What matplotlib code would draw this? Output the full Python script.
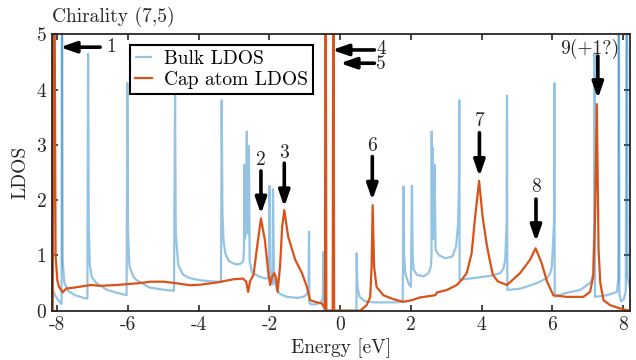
import numpy as np
import matplotlib
matplotlib.use("Agg")
import matplotlib.pyplot as plt

plt.rcParams["font.family"] = ["cmr10", "DejaVu Serif"]
plt.rcParams["axes.formatter.use_mathtext"] = True

# bulk LDOS (energy in eV, LDOS)
bulk_E = [-8.15, -8.05, -7.95, -7.88, -7.87, -7.85, -7.80, -7.70, -7.50, -7.30, -7.15,
          -7.13, -7.11, -7.08, -7.03, -6.90, -6.60, -6.35, -6.04,
          -6.02, -6.00, -5.96, -5.85, -5.77, -5.40, -5.00, -4.70,
          -4.67, -4.65, -4.58, -4.50, -4.44, -4.25, -3.96, -3.60, -3.37,
          -3.35, -3.33, -3.30, -3.25, -3.15, -2.97, -2.83, -2.74, -2.72,
          -2.71, -2.70, -2.66, -2.64, -2.62, -2.59, -2.58, -2.56, -2.50, -2.30, -2.10, -2.02,
          -2.00, -1.98, -1.95, -1.91, -1.90, -1.87, -1.80, -1.70, -1.50, -1.20, -1.00, -0.92, -0.895,
          -0.88, -0.87, -0.80, -0.65, -0.55, -0.49,
          -0.47, -0.46, 0.46,
          0.47, 0.48, 0.50, 0.55, 0.70, 1.00, 1.50, 1.77,
          1.79, 1.81, 1.84, 1.93, 2.00,
          2.03, 2.05, 2.08, 2.17, 2.36, 2.50, 2.57, 2.585,
          2.59, 2.60, 2.62, 2.64, 2.67, 2.70, 2.80, 2.98, 3.17, 3.28, 3.34, 3.36,
          3.37, 3.38, 3.77, 4.24, 4.53, 4.62, 4.67, 4.71,
          4.72, 4.73, 5.10, 5.57, 5.85, 5.94, 5.99, 6.05,
          6.06, 6.07, 6.32, 6.79, 7.07, 7.12, 7.16, 7.19,
          7.20, 7.21, 7.55, 7.83, 7.87,
          7.88, 7.90, 7.95, 8.02, 8.08,
          8.11, 8.13, 8.20]
bulk_L = [0.40, 0.26, 0.17, 0.12, 8.00, 0.90, 0.50, 0.36, 0.28, 0.24, 0.22,
          4.65, 1.50, 0.83, 0.62, 0.50, 0.38, 0.33, 0.28,
          4.12, 1.40, 0.80, 0.62, 0.56, 0.42, 0.38, 0.36,
          3.89, 1.40, 0.83, 0.72, 0.65, 0.59, 0.55, 0.53, 0.52,
          3.81, 1.80, 1.28, 1.04, 0.90, 0.84, 0.845, 0.89, 1.10,
          2.64, 1.30, 1.40, 3.24, 1.50, 1.40, 2.98, 0.90, 0.70, 0.62, 0.58, 0.60,
          2.26, 0.80, 0.55, 0.48, 2.20, 0.60, 0.40, 0.30, 0.25, 0.23, 0.26, 0.32, 0.40,
          1.43, 0.14, 0.11, 0.12, 0.15, 0.22,
          1.06, 0.00, 0.00,
          1.04, 0.55, 0.40, 0.25, 0.17, 0.15, 0.15, 0.16,
          2.25, 1.00, 0.68, 0.50, 0.43,
          2.26, 1.00, 0.74, 0.65, 0.62, 0.68, 0.80, 1.00,
          3.24, 1.30, 2.95, 1.30, 2.64, 1.10, 1.00, 0.95, 0.98, 1.16, 1.60, 2.20,
          3.81, 0.56, 0.59, 0.63, 0.68, 0.76, 0.92, 1.60,
          3.89, 0.375, 0.40, 0.50, 0.59, 0.68, 0.80, 1.60,
          4.12, 0.25, 0.31, 0.375, 0.50, 0.58, 0.68, 1.60,
          4.66, 0.25, 0.28, 0.34, 0.60,
          8.00, 0.30, 0.17, 0.20, 0.35,
          8.00, 0.60, 0.40]

# cap atom LDOS
cap_E = [-8.15, -8.13, -8.09, -8.05, -8.00, -7.95, -7.85, -7.75, -7.50, -7.20, -7.05,
         -6.80, -6.32, -6.04, -5.66, -5.37, -5.00, -4.67, -4.24, -3.96, -3.49, -3.00,
         -2.75, -2.66, -2.60, -2.55, -2.45, -2.36, -2.24, -2.13, -2.03, -1.98, -1.92,
         -1.86, -1.81, -1.77, -1.70, -1.64, -1.58, -1.47, -1.27, -1.08, -0.94, -0.85,
         -0.71, -0.52, -0.43, -0.41, -0.39, -0.21, -0.19, -0.17, 0.57, 0.75, 0.85,
         0.89, 0.92, 0.96, 1.03, 1.22, 1.50, 1.79, 2.03, 2.26, 2.69, 2.74, 3.02, 3.30,
         3.44, 3.58, 3.72, 3.81, 3.93, 4.03, 4.14, 4.23, 4.32, 4.46, 4.72, 5.09, 5.37,
         5.53, 5.70, 5.85, 6.03, 6.41, 6.88, 7.07, 7.16, 7.21, 7.26, 7.31, 7.36, 7.45,
         7.64, 7.92, 8.11, 8.20]
cap_L = [0.00, 0.00, 8.00, 1.00, 0.55, 0.43, 0.33, 0.40, 0.42, 0.45, 0.465,
         0.45, 0.465, 0.48, 0.50, 0.525, 0.525, 0.50, 0.46, 0.47, 0.51, 0.57,
         0.58, 0.53, 0.34, 0.53, 0.65, 1.10, 1.67, 1.28, 0.68, 0.465, 0.62,
         0.68, 0.59, 0.34, 0.80, 1.52, 1.82, 1.34, 0.92, 0.68, 0.43, 0.19,
         0.16, 0.13, 0.04, 8.00, 0.00, 0.00, 8.00, 0.00, 0.00, 0.10, 0.25,
         0.80, 1.91, 0.80, 0.43, 0.28, 0.21, 0.16, 0.19, 0.24, 0.28, 0.33, 0.375, 0.465,
         0.56, 0.68, 1.04, 1.64, 2.35, 1.70, 1.22, 0.92, 0.65, 0.53, 0.465, 0.68, 0.92,
         1.13, 0.86, 0.53, 0.28, 0.25, 0.25, 0.34, 0.62, 1.70, 3.74, 1.10, 0.50, 0.19,
         0.10, 0.04, 0.01, 0.00]

# peak arrows: tip (E, L) and tail (E, L)
arrow_tip = [(-7.92, 4.77), (-0.23, 4.72), (0.00, 4.48), (-2.24, 1.75), (-1.58, 1.88),
             (0.91, 2.00), (3.94, 2.43), (5.54, 1.25), (7.29, 3.84)]
arrow_tail = [(-6.79, 4.77), (0.97, 4.72), (0.97, 4.48), (-2.24, 2.53), (-1.58, 2.67),
              (0.91, 2.79), (3.94, 3.22), (5.54, 2.02), (7.29, 4.61)]
# peak labels ("4" and "5" sit as one two-line label next to their arrows)
label_text = ["1", "4\n5", "2", "3", "6", "7", "8", "9(+1?)"]
label_pos = [(-6.62, 4.77), (1.02, 4.60), (-2.24, 2.72), (-1.58, 2.86),
             (0.91, 2.98), (3.94, 3.43), (5.54, 2.24), (7.06, 4.74)]
label_ha = ["left", "left", "center", "center", "center", "center", "center", "center"]

xticks = [-8, -6, -4, -2, 0, 2, 4, 6, 8]
xticklabels = ["-8", "-6", "-4", "-2", "0", "2", "4", "6", "8"]
yticks = [0, 1, 2, 3, 4, 5]

blue = "#0072BD"
red = "#D95319"
dark = "#262626"
fs = 14

fig = plt.figure(figsize=(6.36, 3.6), dpi=100)
ax = fig.add_axes([0.0818, 0.137, 0.9088, 0.7672])

# bulk curve, split at the off-scale spikes so the up/down strokes overlap
E = np.array(bulk_E)
L = np.array(bulk_L)
cuts = list(np.where(L > 5)[0])
start = 0
first = True
for c in cuts + [len(E) - 1]:
    ax.plot(E[start:c + 1], L[start:c + 1], color=blue, alpha=0.42, lw=1.6,
            solid_capstyle="butt", label="Bulk LDOS" if first else None)
    first = False
    start = c

ax.plot(cap_E, cap_L, color=red, lw=1.6, label="Cap atom LDOS")

for tip, tail in zip(arrow_tip, arrow_tail):
    ax.annotate("", xy=tip, xytext=tail,
                arrowprops=dict(arrowstyle="-|>,head_length=0.95,head_width=0.33",
                                lw=2.6, color="k", shrinkA=0, shrinkB=0,
                                mutation_scale=10))
for lab, tp, ha in zip(label_text, label_pos, label_ha):
    ax.text(tp[0], tp[1], lab, fontsize=fs, color=dark, ha=ha, va="center",
            linespacing=0.75)

ax.set_xlim(-8.15, 8.2)
ax.set_ylim(0, 5)
ax.set_xticks(xticks)
ax.set_xticklabels(xticklabels)
ax.set_yticks(yticks)
ax.set_yticklabels([str(v) for v in yticks])
ax.tick_params(direction="in", length=4, width=1.2, top=True, right=True,
               labelsize=fs, colors=dark, pad=4)
for s in ax.spines.values():
    s.set_linewidth(1.3)
    s.set_color(dark)

ax.set_xlabel("Energy [eV]", fontsize=fs, color=dark, labelpad=3)
ax.set_ylabel("LDOS", fontsize=fs, color=dark, labelpad=5)
ax.set_title("Chirality (7,5)", loc="left", fontsize=fs, color=dark, pad=9)

leg = ax.legend(loc="upper left", bbox_to_anchor=(0.135, 0.962), fontsize=fs,
                frameon=True, fancybox=False, framealpha=1, edgecolor="k",
                handlelength=0.9, handletextpad=0.6, borderpad=0.25,
                labelspacing=0.15, borderaxespad=0)
leg.get_frame().set_linewidth(1.5)

fig.savefig("out.png", dpi=100)
